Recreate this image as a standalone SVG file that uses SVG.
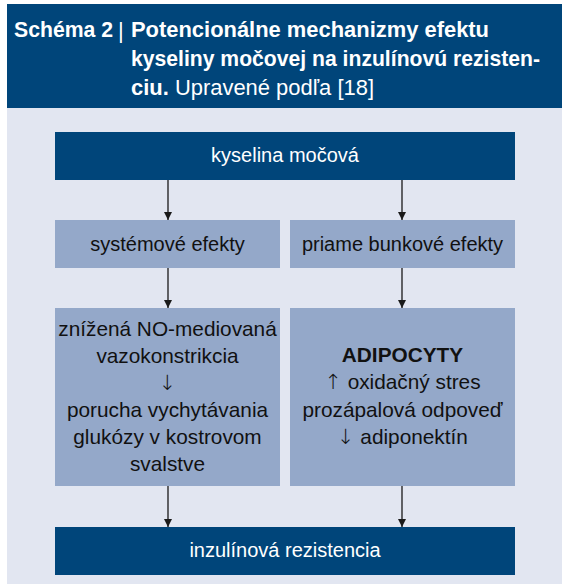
<svg xmlns="http://www.w3.org/2000/svg" width="562" height="584" viewBox="0 0 562 584">
<defs>
<style>
.dark{fill:#00457a}
.mid{fill:#94a8c9}
.wt{fill:#ffffff;font-family:"Liberation Sans",Arial,sans-serif;font-size:20px;text-anchor:middle}
.bt{fill:#111111;font-family:"Liberation Sans",Arial,sans-serif;font-size:20px;text-anchor:middle}
.bt2{fill:#111111;font-family:"Liberation Sans",Arial,sans-serif;font-size:20.8px;text-anchor:middle}
.arr{font-family:"DejaVu Sans",sans-serif;font-weight:200}
.title{fill:#ffffff;font-family:"Liberation Sans",Arial,sans-serif;font-size:22px;font-weight:bold}
.conn{stroke:#1a1a1a;stroke-width:1.3;fill:none;marker-end:url(#ah)}
</style>
<marker id="ah" viewBox="0 0 8 8" refX="8" refY="4" markerWidth="8" markerHeight="8" markerUnits="userSpaceOnUse" orient="auto">
<path d="M0,0 L8,4 L0,8 Z" fill="#1a1a1a"/>
</marker>
</defs>
<rect x="0" y="0" width="562" height="584" fill="#ffffff"/>
<rect x="7" y="108" width="555" height="476" fill="#e2e6f1"/>
<g id="header">
<rect x="7" y="4" width="555" height="104" class="dark"/>
<text class="title" x="14" y="37" textLength="99" lengthAdjust="spacingAndGlyphs">Schéma 2</text>
<text x="118" y="38" fill="#ffffff" font-family="Liberation Sans, Arial, sans-serif" font-size="22">|</text>
<text class="title" x="131" y="37" textLength="358" lengthAdjust="spacingAndGlyphs">Potencionálne mechanizmy efektu</text>
<text class="title" x="131" y="66" textLength="409" lengthAdjust="spacingAndGlyphs">kyseliny močovej na inzulínovú rezisten-</text>
<text x="131" y="95" fill="#ffffff" font-family="Liberation Sans, Arial, sans-serif" font-size="22" textLength="243" lengthAdjust="spacingAndGlyphs"><tspan font-weight="bold">ciu.</tspan> Upravené podľa [18]</text>
</g>
<g id="connectors">
<line class="conn" x1="168" y1="180" x2="168" y2="220"/>
<line class="conn" x1="402" y1="180" x2="402" y2="220"/>
<line class="conn" x1="168" y1="268" x2="168" y2="308"/>
<line class="conn" x1="402" y1="268" x2="402" y2="308"/>
<line class="conn" x1="168" y1="486" x2="168" y2="527"/>
<line class="conn" x1="402" y1="486" x2="402" y2="527"/>
</g>
<g id="kyselina">
<rect x="55" y="132" width="460" height="48" class="dark"/>
<text class="wt" x="285" y="162">kyselina močová</text>
</g>
<g id="systemove">
<rect x="55" y="220" width="225" height="48" class="mid"/>
<text class="bt" x="167.5" y="251">systémové efekty</text>
</g>
<g id="priame">
<rect x="290" y="220" width="225" height="48" class="mid"/>
<text class="bt" x="402.5" y="251">priame bunkové efekty</text>
</g>
<g id="vazo">
<rect x="55" y="308" width="225" height="178" class="mid"/>
<text class="bt2" x="167.5" y="336">znížená NO-mediovaná</text>
<text class="bt2" x="167.5" y="363">vazokonstrikcia</text>
<text class="bt2 arr" x="167.5" y="390">↓</text>
<text class="bt2" x="167.5" y="417">porucha vychytávania</text>
<text class="bt2" x="167.5" y="444">glukózy v kostrovom</text>
<text class="bt2" x="167.5" y="471">svalstve</text>
</g>
<g id="adipocyty">
<rect x="290" y="308" width="225" height="178" class="mid"/>
<text class="bt2" x="402.5" y="362" font-weight="bold">ADIPOCYTY</text>
<text class="bt2" x="402.5" y="389"><tspan class="arr">↑</tspan> oxidačný stres</text>
<text class="bt2" x="402.5" y="417">prozápalová odpoveď</text>
<text class="bt2" x="402.5" y="444"><tspan class="arr">↓</tspan> adiponektín</text>
</g>
<g id="inzulinova">
<rect x="55" y="527" width="460" height="48" class="dark"/>
<text class="wt" x="285" y="557">inzulínová rezistencia</text>
</g>
</svg>
